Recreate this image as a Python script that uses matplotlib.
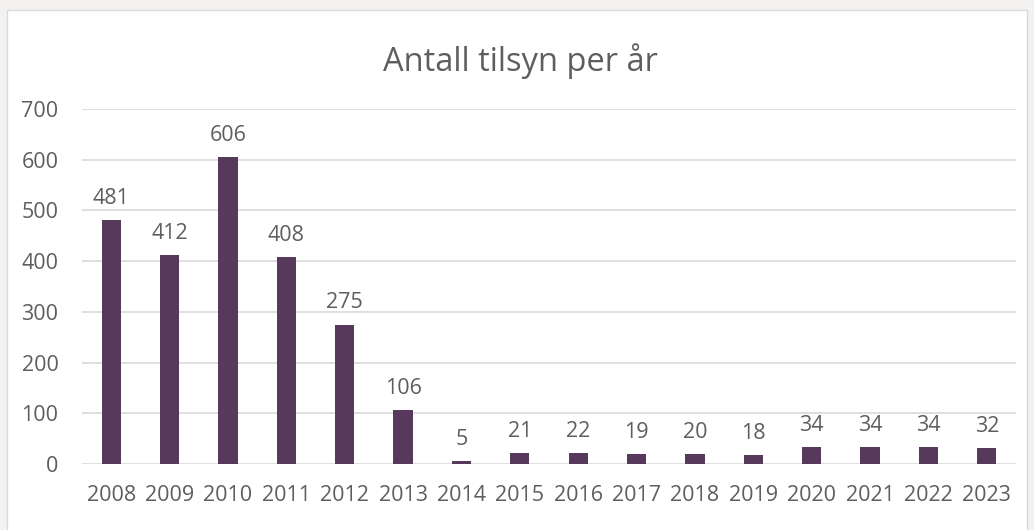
import matplotlib.pyplot as plt
from matplotlib.patches import Rectangle

years = ['2008', '2009', '2010', '2011', '2012', '2013', '2014', '2015',
         '2016', '2017', '2018', '2019', '2020', '2021', '2022', '2023']
counts = [481, 412, 606, 408, 275, 106, 5, 21, 22, 19, 20, 18, 34, 34, 34, 32]
yticks = [0, 100, 200, 300, 400, 500, 600, 700]

bar_color = '#56395B'
text_color = '#5E5E5E'
grid_color = '#D9D9D9'

plt.rcParams['font.family'] = ['Open Sans', 'DejaVu Sans']

fig = plt.figure(figsize=(10.34, 5.30), dpi=100)
fig.patch.set_facecolor('#F3F2F1')
# white chart area with thin border
fig.patches.append(Rectangle((7 / 1034, -0.05), 1020 / 1034, 1.0 - 10 / 530 + 0.05,
                             transform=fig.transFigure, facecolor='white',
                             edgecolor='#D9D9D9', linewidth=1.0, zorder=-5))

ax = fig.add_axes([82 / 1034, 1 - 464 / 530, 934 / 1034, (464 - 109) / 530])
ax.set_zorder(2)
ax.set_facecolor('none')
x = range(len(years))
ax.bar(x, counts, width=0.33, color=bar_color, zorder=3)
for i, v in enumerate(counts):
    ax.text(i, v + 22, str(v), ha='center', va='bottom', fontsize=15.5, color=text_color)

ax.set_xlim(-0.5, len(years) - 0.5)
ax.set_ylim(0, 700)
ax.set_yticks(yticks)
ax.set_xticks(list(x))
ax.set_xticklabels(years)
ax.tick_params(axis='both', length=0, labelsize=15.5, labelcolor=text_color)
ax.tick_params(axis='y', pad=17)
ax.tick_params(axis='x', pad=15)
ax.grid(axis='y', color=grid_color, linewidth=1.2, zorder=0)
for s in ax.spines.values():
    s.set_visible(False)

fig.text(0.503, 1 - 61 / 530, 'Antall tilsyn per år', ha='center', va='center',
         fontsize=23.5, color=text_color)

fig.savefig('out.png', dpi=100, facecolor=fig.get_facecolor())
